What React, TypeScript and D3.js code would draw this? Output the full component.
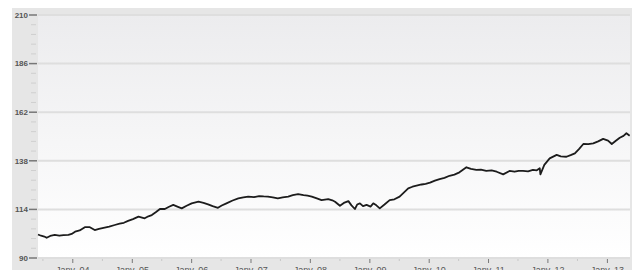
import React, { useEffect, useRef } from 'react';
import * as d3 from 'd3';

// values (index, base 100)
const dates = [
  '2003-06-01', '2003-06-20', '2003-07-10', '2003-07-24', '2003-08-15', '2003-09-12', '2003-10-10',
  '2003-11-05', '2003-12-05', '2003-12-25', '2004-01-15', '2004-02-12', '2004-03-15', '2004-04-15',
  '2004-05-15', '2004-06-10', '2004-07-15', '2004-08-12', '2004-09-15', '2004-10-15', '2004-11-10',
  '2004-12-06', '2005-01-05', '2005-02-08', '2005-03-18', '2005-04-10', '2005-05-01', '2005-05-25',
  '2005-06-20', '2005-07-20', '2005-08-15', '2005-09-10', '2005-10-05', '2005-11-01', '2005-12-01',
  '2006-01-01', '2006-02-12', '2006-03-15', '2006-04-12', '2006-05-10', '2006-06-12', '2006-07-05',
  '2006-08-03', '2006-09-10', '2006-10-15', '2006-11-15', '2006-12-15', '2007-01-20', '2007-02-20',
  '2007-03-20', '2007-04-15', '2007-05-15', '2007-06-15', '2007-07-15', '2007-08-18', '2007-09-15',
  '2007-10-18', '2007-11-20', '2007-12-15', '2008-01-10', '2008-02-10', '2008-03-10', '2008-04-20',
  '2008-05-15', '2008-06-01', '2008-07-01', '2008-07-25', '2008-08-22', '2008-09-10', '2008-10-01',
  '2008-10-15', '2008-11-01', '2008-11-20', '2008-12-12', '2009-01-05', '2009-01-22', '2009-02-10',
  '2009-03-03', '2009-04-01', '2009-05-03', '2009-06-01', '2009-07-03', '2009-08-01', '2009-08-25',
  '2009-09-20', '2009-10-15', '2009-11-15', '2009-12-10', '2010-01-06', '2010-02-05', '2010-03-06',
  '2010-04-05', '2010-05-06', '2010-06-05', '2010-07-06', '2010-08-18', '2010-09-15', '2010-10-18',
  '2010-11-15', '2010-12-18', '2011-01-20', '2011-02-20', '2011-04-01', '2011-05-10', '2011-06-10',
  '2011-07-05', '2011-08-01', '2011-09-01', '2011-10-01', '2011-10-25', '2011-11-12', '2011-11-16',
  '2011-12-10', '2012-01-12', '2012-02-24', '2012-03-20', '2012-04-24', '2012-05-20', '2012-06-15',
  '2012-07-10', '2012-08-06', '2012-09-05', '2012-10-06', '2012-11-05', '2012-12-06', '2013-01-05',
  '2013-01-28', '2013-02-20', '2013-03-18', '2013-04-10', '2013-04-28', '2013-05-18',
];
const values = [
  101.6, 101.0, 100.6, 100.0, 100.9, 101.4, 101.0,
  101.3, 101.4, 101.9, 103.0, 103.6, 105.2, 105.2,
  103.8, 104.4, 105.0, 105.5, 106.3, 107.0, 107.4,
  108.3, 109.2, 110.4, 109.6, 110.6, 111.2, 112.6,
  114.2, 114.2, 115.3, 116.2, 115.4, 114.5, 115.8,
  117.0, 117.8, 117.2, 116.5, 115.6, 114.8, 115.9,
  117.0, 118.4, 119.4, 119.9, 120.3, 120.1, 120.6,
  120.4, 120.3, 119.9, 119.4, 119.9, 120.3, 121.0,
  121.5, 121.0, 120.8, 120.3, 119.4, 118.6, 119.1,
  118.5, 117.8, 115.8, 117.2, 118.1, 116.0, 114.2,
  116.4, 117.0, 115.6, 116.2, 115.4, 117.0, 116.0,
  114.5, 116.4, 118.6, 119.0, 120.3, 122.5, 124.4,
  125.2, 125.7, 126.3, 126.6, 127.2, 128.2, 129.0,
  129.6, 130.6, 131.2, 132.3, 134.8, 134.0, 133.5,
  133.6, 133.0, 133.3, 132.6, 131.3, 133.0, 132.6,
  133.0, 133.0, 132.8, 133.5, 133.3, 134.3, 131.3,
  136.0, 139.2, 140.9, 140.2, 140.0, 140.8, 141.7,
  143.8, 146.3, 146.2, 146.6, 147.6, 148.8, 148.0,
  146.3, 147.8, 149.4, 150.3, 151.6, 150.4,
];
const yTicks = [90, 114, 138, 162, 186, 210];
const tickYears = ['04', '05', '06', '07', '08', '09', '10', '11', '12', '13'];

const W = 632;
const H = 270;

export default function App() {
  const ref = useRef<SVGSVGElement>(null);

  useEffect(() => {
    const svg = d3.select(ref.current);
    svg.selectAll('*').remove();

    const left = 38, right = 630, top = 15, bottom = 258;
    const parse = d3.utcParse('%Y-%m-%d');
    const data = dates.map((d, i) => ({ date: parse(d) as Date, value: values[i] }));

    const x = d3.scaleUtc()
      .domain([parse('2003-06-01') as Date, parse('2013-05-20') as Date])
      .range([left, right]);
    const y = d3.scaleLinear().domain([90, 210]).range([bottom, top]);

    const defs = svg.append('defs');
    const grad = defs.append('linearGradient')
      .attr('id', 'bg').attr('x1', 0).attr('y1', 0).attr('x2', 0).attr('y2', 1);
    grad.append('stop').attr('offset', '0%').attr('stop-color', '#ececee');
    grad.append('stop').attr('offset', '100%').attr('stop-color', '#ffffff');

    // frame
    svg.append('rect')
      .attr('x', 12).attr('y', 8).attr('width', W - 12).attr('height', H - 8)
      .attr('fill', '#e6e6e6');
    svg.append('rect')
      .attr('x', left).attr('y', top).attr('width', right - left).attr('height', bottom - top)
      .attr('fill', 'url(#bg)');

    // grid lines
    svg.append('g').selectAll('line')
      .data(yTicks)
      .enter()
      .append('line')
      .attr('x1', left).attr('x2', right)
      .attr('y1', d => y(d)).attr('y2', d => y(d))
      .attr('stroke', '#dedede')
      .attr('stroke-width', 2);

    // y axis minor ticks
    const minor: number[] = [];
    for (let i = 0; i < yTicks.length - 1; i++) {
      for (let k = 1; k < 5; k++) minor.push(yTicks[i] + (k * (yTicks[i + 1] - yTicks[i])) / 5);
    }
    svg.append('g').selectAll('line')
      .data(minor)
      .enter()
      .append('line')
      .attr('x1', 31).attr('x2', 36)
      .attr('y1', d => y(d)).attr('y2', d => y(d))
      .attr('stroke', '#cfcfcf');

    svg.append('g').selectAll('line')
      .data(yTicks)
      .enter()
      .append('line')
      .attr('x1', 29).attr('x2', 37)
      .attr('y1', d => y(d)).attr('y2', d => y(d))
      .attr('stroke', '#777')
      .attr('stroke-width', 1.5);

    svg.append('g').selectAll('text')
      .data(yTicks)
      .enter()
      .append('text')
      .text(d => d)
      .attr('x', 28)
      .attr('y', d => y(d))
      .attr('dy', '0.35em')
      .attr('text-anchor', 'end')
      .attr('font-family', 'Liberation Sans, Arial, sans-serif')
      .attr('font-size', 8)
      .attr('font-weight', 'bold')
      .attr('fill', '#555');

    // x axis ticks
    const janDates = tickYears.map(t => parse('20' + t + '-01-01') as Date);
    const julDates = d3.utcMonth.every(6)!.range(parse('2003-07-01') as Date, parse('2013-05-20') as Date)
      .filter(d => d.getUTCMonth() === 6);

    svg.append('g').selectAll('line')
      .data(julDates)
      .enter()
      .append('line')
      .attr('x1', d => x(d)).attr('x2', d => x(d))
      .attr('y1', bottom + 1).attr('y2', bottom + 3)
      .attr('stroke', '#c8c8c8');

    svg.append('g').selectAll('line')
      .data(janDates)
      .enter()
      .append('line')
      .attr('x1', d => x(d)).attr('x2', d => x(d))
      .attr('y1', bottom + 1).attr('y2', bottom + 5)
      .attr('stroke', '#777');

    // labels sit partly below the bottom edge, as in the original
    svg.append('g').selectAll('text')
      .data(janDates)
      .enter()
      .append('text')
      .text((d, i) => 'Janv. ' + tickYears[i])
      .attr('x', d => x(d))
      .attr('y', 273)
      .attr('text-anchor', 'middle')
      .attr('font-family', 'Liberation Sans, Arial, sans-serif')
      .attr('font-size', 9)
      .attr('fill', '#555');

    // series
    const line = d3.line<{ date: Date; value: number }>()
      .x(d => x(d.date))
      .y(d => y(d.value));
    svg.append('path')
      .datum(data)
      .attr('d', line)
      .attr('fill', 'none')
      .attr('stroke', '#1c1c1c')
      .attr('stroke-width', 1.8)
      .attr('stroke-linejoin', 'round');
  }, []);

  return (
    <div style={{ position: 'absolute', left: 0, top: 0 }}>
      <svg ref={ref} width={W} height={H} style={{ display: 'block' }} />
    </div>
  );
}
